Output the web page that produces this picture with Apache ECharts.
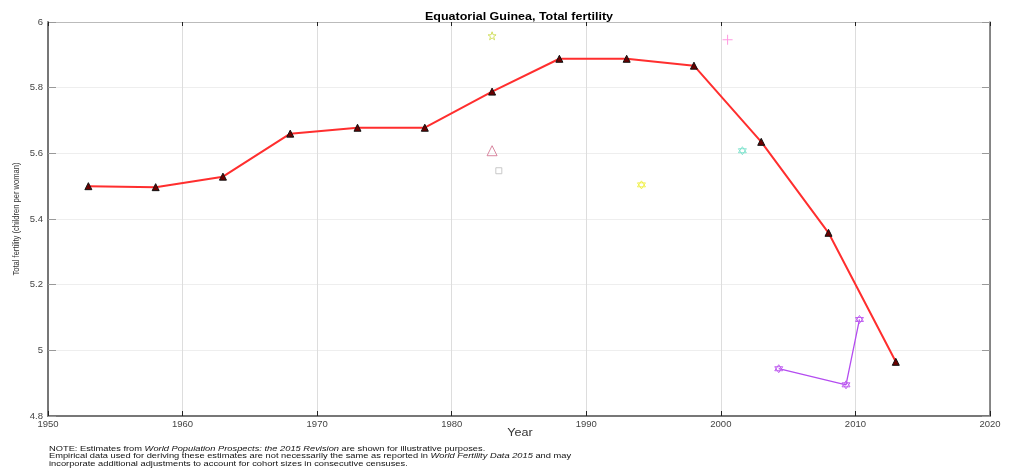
<!DOCTYPE html>
<html><head><meta charset="utf-8">
<script src="https://cdn.jsdelivr.net/npm/echarts@6/dist/echarts.min.js"></script>
<style>html,body{margin:0;padding:0;background:#fff}#c{width:1010px;height:469px}</style>
</head><body><div id="c"></div>
<script>
const estYears = [1953,1958,1963,1968,1973,1978,1983,1988,1993,1998,2003,2008,2013];
const estValues = [5.50,5.497,5.529,5.66,5.678,5.678,5.788,5.888,5.888,5.867,5.635,5.358,4.965];
const starPts = [[1983,5.958]];
const plusPts = [[2000.5,5.946]];
const triPts = [[1983,5.608]];
const squarePts = [[1983.5,5.547]];
const yellowHexPts = [[1994.1,5.504]];
const cyanHexPts = [[2001.6,5.608]];
const purpleYears = [2004.3,2009.3,2010.3];
const purpleValues = [4.944,4.895,5.094];
const xTicks = [1950,1960,1970,1980,1990,2000,2010,2020];
const yTicks = [4.8,5,5.2,5.4,5.6,5.8,6];

const hexPath = 'path://M0,-10L8.66,5L-8.66,5ZM0,10L8.66,-5L-8.66,-5Z';
const plusPath = 'path://M0,4.5h10v1h-10zM4.5,0h1v10h-1z';
const chart = echarts.init(document.getElementById('c'));
const fam = 'Liberation Sans, Arial, sans-serif';
function scat(data, symbol, color, size, filled) {
  return {type:'scatter', data, symbol, symbolSize:size, xAxisIndex:0, yAxisIndex:0,
    itemStyle: filled ? {color} : {color:'rgba(0,0,0,0)', borderColor:color, borderWidth:1}, z:3};
}
chart.setOption({
  animation:false,
  grid:{left:48, right:20, top:22, bottom:53},
  xAxis:[{type:'value', min:1950, max:2020, interval:10,
      axisLine:{show:true, lineStyle:{color:'#777', width:2}},
      axisTick:{show:true, inside:true, length:5, lineStyle:{color:'#222'}},
      axisLabel:{fontFamily:fam, fontSize:9.5, color:'#444', margin:3, formatter:v=>xTicks.includes(v)?String(v):''},
      splitLine:{show:true, lineStyle:{color:'#ddd', width:1}}},
    {type:'value', position:'top', min:1950, max:2020, interval:10,
      axisLine:{show:true, lineStyle:{color:'#bbb', width:1}},
      axisTick:{show:true, inside:true, length:4, lineStyle:{color:'#222'}},
      axisLabel:{show:false}, splitLine:{show:false}}],
  yAxis:[{type:'value', min:4.8, max:6, interval:0.2,
      axisLine:{show:true, lineStyle:{color:'#777', width:2}},
      axisTick:{show:true, inside:true, length:8, lineStyle:{color:'#999'}},
      axisLabel:{fontFamily:fam, fontSize:9.5, color:'#444', margin:5,
        formatter:v=>{const r=Math.round(v*10)/10; return yTicks.some(t=>Math.abs(t-r)<1e-6)?String(r):'';}},
      splitLine:{show:true, lineStyle:{color:'#eee', width:1}}},
    {type:'value', position:'right', min:4.8, max:6, interval:0.2,
      axisLine:{show:true, lineStyle:{color:'#666', width:1.5}},
      axisTick:{show:true, inside:true, length:8, lineStyle:{color:'#999'}},
      axisLabel:{show:false}, splitLine:{show:false}}],
  series:[
    {type:'line', data:estYears.map((y,i)=>[y,estValues[i]]), xAxisIndex:0, yAxisIndex:0,
      lineStyle:{color:'#ff2e2e', width:2}, symbol:'triangle', symbolSize:7, showSymbol:true,
      itemStyle:{color:'#6b0000', borderColor:'#111', borderWidth:1}, z:4},
    {type:'line', data:purpleYears.map((y,i)=>[y,purpleValues[i]]), xAxisIndex:0, yAxisIndex:0,
      lineStyle:{color:'#b44cf0', width:1.3}, symbol:hexPath, symbolSize:8, showSymbol:true,
      itemStyle:{color:'rgba(0,0,0,0)', borderColor:'#c060f0', borderWidth:1}, z:3},
    scat(starPts,'path://M0,-10L2.35,-3.24L9.51,-3.09L3.8,1.24L5.88,8.09L0,4L-5.88,8.09L-3.8,1.24L-9.51,-3.09L-2.35,-3.24Z','#c8d840',8,false),
    scat(plusPts, plusPath, '#ff80d8', 10, true),
    scat(triPts,'triangle','#d06a8a',10,false),
    scat(squarePts,'rect','#bbbbbb',6,false),
    scat(yellowHexPts,hexPath,'#eeee30',8,false),
    scat(cyanHexPts,hexPath,'#70e0c8',8,false)
  ],
  graphic:[
    {type:'text', x:519, y:17, scaleX:1.25, style:{text:'Equatorial Guinea, Total fertility',
      fontFamily:fam, fontSize:10, fontWeight:'bold', fill:'#000', align:'center', verticalAlign:'middle'}},
    {type:'text', x:520, y:433, scaleX:1.2, style:{text:'Year',
      fontFamily:fam, fontSize:10.5, fill:'#333', align:'center', verticalAlign:'middle'}},
    {type:'text', x:17, y:219, rotation:Math.PI/2, scaleX:0.84, style:{text:'Total fertility (children per woman)',
      fontFamily:fam, fontSize:9, fill:'#333', align:'center', verticalAlign:'middle'}},
    {type:'text', x:49, y:445, scaleX:1.24, style:{
    text:'NOTE: Estimates from {i|World Population Prospects: the 2015 Revision} are shown for illustrative purposes.\nEmpirical data used for deriving these estimates are not necessarily the same as reported in {i|World Fertility Data 2015} and may\nincorporate additional adjustments to account for cohort sizes in consecutive censuses.',
    fontFamily:fam, fontSize:7.5, lineHeight:7.5, fill:'#111',
    rich:{i:{fontStyle:'italic', fontFamily:fam, fontSize:7.5, lineHeight:7.5, fill:'#111'}}}}]
});
</script></body></html>
